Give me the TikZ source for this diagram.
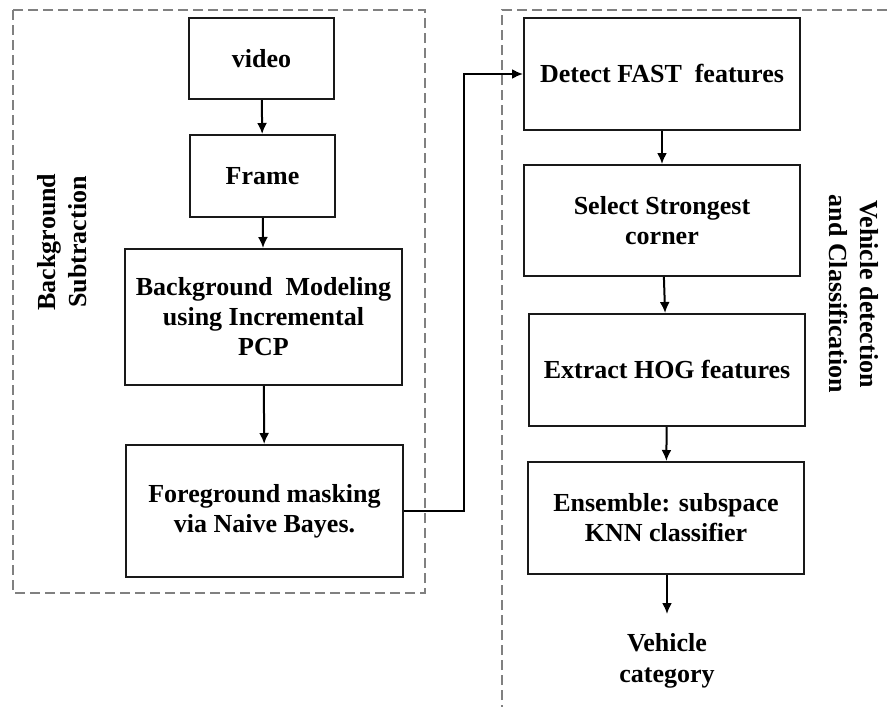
\documentclass[tikz,border=0pt]{standalone}
\usepackage{fontspec}
\setmainfont{Liberation Serif}
\usetikzlibrary{arrows.meta}
\begin{document}
\begin{tikzpicture}[x=1pt,y=-1pt,
  box/.style={draw=black!90, line width=2pt, fill=white, align=center, inner sep=2pt,
    font=\fontsize{26}{30}\selectfont\bfseries},
  lbl/.style={align=center, font=\fontsize{26}{31}\selectfont\bfseries},
  grp/.style={draw=black!50, line width=1.4pt, dash pattern=on 10pt off 5pt},
  arr/.style={draw=black, line width=2pt, -{Latex[length=11pt,width=10pt]}}]
\clip (0,0) rectangle (892,707);
\fill[white] (0,0) rectangle (892,707);
% group frames
\draw[grp] (13,10) rectangle (425,593);
\draw[grp] (502,730) -- (502,10) -- (910,10);
% left column
\node[box, minimum width=145pt, minimum height=81pt] (video) at (261.5,58.7) {video};
\node[box, minimum width=145pt, minimum height=82pt] (frame) at (262.5,176) {Frame};
\node[box, minimum width=277pt, minimum height=136pt] (bgm) at (263.5,317) {Background\ \ Modeling\\using Incremental\\PCP};
\node[box, minimum width=277pt, minimum height=132pt] (fg) at (264.5,511) {Foreground masking\\via Naive Bayes.};
% right column
\node[box, minimum width=276pt, minimum height=112pt] (detect) at (662,74) {Detect FAST\ \ features};
\node[box, minimum width=276pt, minimum height=111pt] (select) at (662,220.5) {Select Strongest\\corner};
\node[box, minimum width=276pt, minimum height=112pt] (hog) at (667,370) {Extract HOG features};
\node[box, minimum width=276pt, minimum height=112pt] (ens) at (666,518) {Ensemble: subspace\\KNN classifier};
\node[lbl, inner sep=0pt] (cat) at (667,661) {Vehicle\\category};
\coordinate (catin) at (667,614);
% side labels
\node[lbl, rotate=90] (lbg) at (62,242) {Background\\Subtraction};
\node[lbl, rotate=-90] (lvd) at (854,294) {Vehicle detection\\and Classification};
% connectors
\draw[arr] (video) -- (frame);
\draw[arr] (frame) -- (bgm);
\draw[arr] (bgm) -- (fg);
\draw[arr] (fg.east) -- ++(60,0) |- (detect.west);
\draw[arr] (detect) -- (select);
\draw[arr] (select) -- (hog);
\draw[arr] (hog) -- (ens);
\draw[arr] (ens.south -| catin) -- (catin);
\end{tikzpicture}
\end{document}
